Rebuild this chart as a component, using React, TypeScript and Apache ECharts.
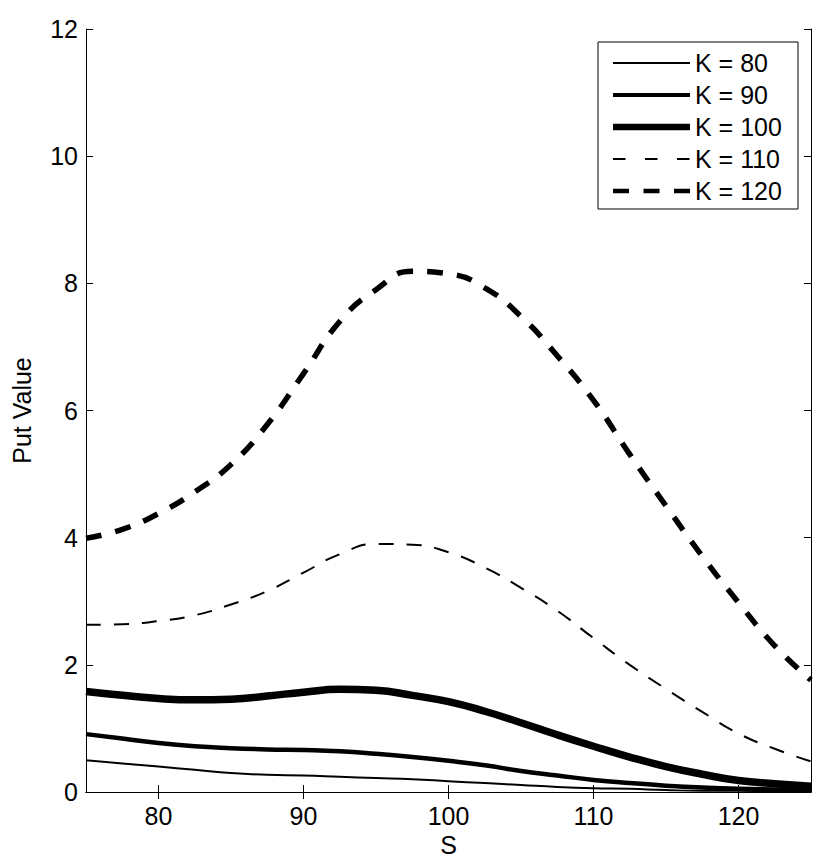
import React, { useEffect, useRef } from "react";
import * as echarts from "echarts";

// ---- data ----
const S_VALUES = [75, 77.5, 80, 82.5, 85, 87.5, 90, 92.5, 95, 97.5, 100, 102.5, 105, 107.5, 110, 112.5, 115, 117.5, 120, 122.5, 125];
const PUT_K80 = [0.5, 0.45, 0.4, 0.35, 0.3, 0.27, 0.26, 0.24, 0.22, 0.2, 0.17, 0.14, 0.11, 0.08, 0.06, 0.05, 0.03, 0.02, 0.02, 0.01, 0.01];
const PUT_K90 = [0.91, 0.84, 0.77, 0.72, 0.69, 0.67, 0.66, 0.64, 0.6, 0.55, 0.49, 0.42, 0.33, 0.26, 0.19, 0.14, 0.1, 0.07, 0.05, 0.04, 0.03];
const PUT_K100 = [1.58, 1.52, 1.47, 1.45, 1.46, 1.51, 1.57, 1.615, 1.6, 1.52, 1.42, 1.27, 1.09, 0.9, 0.72, 0.55, 0.4, 0.28, 0.18, 0.13, 0.09];
const PUT_K110 = [2.63, 2.64, 2.69, 2.78, 2.95, 3.16, 3.45, 3.74, 3.9, 3.89, 3.77, 3.53, 3.21, 2.85, 2.42, 2.0, 1.62, 1.26, 0.92, 0.68, 0.48];
const PUT_K120 = [3.99, 4.13, 4.38, 4.72, 5.15, 5.78, 6.58, 7.4, 7.9, 8.19, 8.15, 7.93, 7.48, 6.86, 6.16, 5.31, 4.5, 3.71, 2.98, 2.3, 1.76];
const SERIES_NAMES = ["K = 80", "K = 90", "K = 100", "K = 110", "K = 120"];
const SERIES_VALUES = [PUT_K80, PUT_K90, PUT_K100, PUT_K110, PUT_K120];
const X_TICKS = [80, 90, 100, 110, 120];
const X_MIN = 75;
const X_MAX = 125;
const Y_MIN = 0;
const Y_MAX = 12;
const Y_STEP = 2;

// ---- styles ----
const FONT = "Liberation Sans, Arial, Helvetica, sans-serif";
const CURVE_STYLES = [
  { width: 2, dash: null as number[] | null },
  { width: 4.5, dash: null },
  { width: 7.5, dash: null },
  { width: 2, dash: [15, 13] },
  { width: 5.5, dash: [16, 14] },
];
const LEGEND_STYLES = [
  { width: 2, dash: null as number[] | null },
  { width: 4, dash: null },
  { width: 6.5, dash: null },
  { width: 2, dash: [12.5, 19.5] },
  { width: 4.5, dash: [16, 14.5] },
];

export default function App() {
  const ref = useRef<HTMLDivElement>(null);

  useEffect(() => {
    if (!ref.current) return;
    const chart = echarts.init(ref.current, undefined, { renderer: "svg" });

    const axisLine = { show: true, lineStyle: { color: "#000", width: 1 } };
    const tickStyle = { show: true, inside: true, length: 7, lineStyle: { color: "#000", width: 1 } };

    const series = SERIES_NAMES.map((name, i) => ({
      name,
      type: "line",
      data: S_VALUES.map((s, j) => [s, SERIES_VALUES[i][j]]),
      showSymbol: false,
      symbol: "none",
      smooth: 0.5,
      clip: true,
      lineStyle: {
        color: "#000",
        width: CURVE_STYLES[i].width,
        type: CURVE_STYLES[i].dash ? CURVE_STYLES[i].dash : "solid",
        cap: "butt",
      },
      emphasis: { disabled: true },
      z: 2,
    }));

    const legendTop = 42;
    const legendLeft = 598;
    const rowGap = 32;
    const legendChildren: any[] = [
      {
        type: "rect",
        shape: { x: legendLeft, y: legendTop, width: 200, height: 167 },
        style: { fill: "#fff", stroke: "#000", lineWidth: 1 },
      },
    ];
    SERIES_NAMES.forEach((name, i) => {
      const y = legendTop + 21 + i * rowGap;
      legendChildren.push({
        type: "line",
        shape: { x1: legendLeft + 15, y1: y, x2: legendLeft + 92, y2: y },
        style: {
          stroke: "#000",
          lineWidth: LEGEND_STYLES[i].width,
          lineDash: LEGEND_STYLES[i].dash || undefined,
        },
      });
      legendChildren.push({
        type: "text",
        x: legendLeft + 97,
        y,
        style: {
          text: name,
          fontSize: 25,
          fontFamily: FONT,
          fill: "#000",
          verticalAlign: "middle",
          align: "left",
        },
      });
    });

    chart.setOption({
      animation: false,
      backgroundColor: "#fff",
      grid: { left: 86, right: 19, top: 29, bottom: 75, containLabel: false },
      xAxis: [
        {
          type: "value",
          min: X_MIN,
          max: X_MAX,
          name: "S",
          nameLocation: "middle",
          nameGap: 40,
          nameTextStyle: { color: "#000", fontSize: 25, fontFamily: FONT },
          axisLine,
          axisTick: { ...tickStyle, customValues: X_TICKS },
          axisLabel: { color: "#000", fontSize: 25, fontFamily: FONT, margin: 11, customValues: X_TICKS },
          splitLine: { show: false },
        },
        {
          type: "value",
          position: "top",
          min: X_MIN,
          max: X_MAX,
          axisLine,
          axisTick: { ...tickStyle, customValues: X_TICKS },
          axisLabel: { show: false },
          splitLine: { show: false },
        },
      ],
      yAxis: [
        {
          type: "value",
          min: Y_MIN,
          max: Y_MAX,
          interval: Y_STEP,
          name: "Put Value",
          nameLocation: "middle",
          nameGap: 52,
          nameTextStyle: { color: "#000", fontSize: 25, fontFamily: FONT },
          axisLine,
          axisTick: tickStyle,
          axisLabel: { color: "#000", fontSize: 25, fontFamily: FONT, margin: 8 },
          splitLine: { show: false },
        },
        {
          type: "value",
          position: "right",
          min: Y_MIN,
          max: Y_MAX,
          interval: Y_STEP,
          axisLine,
          axisTick: tickStyle,
          axisLabel: { show: false },
          splitLine: { show: false },
        },
      ],
      legend: { show: false },
      series,
      graphic: [{ type: "group", children: legendChildren, z: 100 }],
    });

    return () => chart.dispose();
  }, []);

  return (
    <div
      ref={ref}
      style={{ position: "absolute", left: 0, top: 0, width: 830, height: 867, background: "#fff" }}
    />
  );
}
